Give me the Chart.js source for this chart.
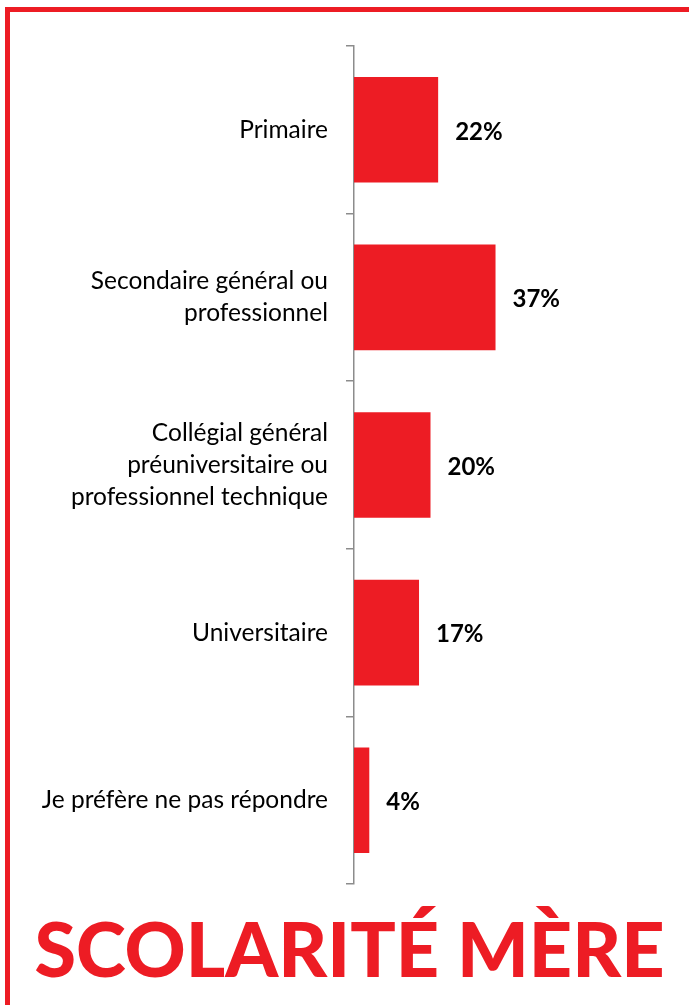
<!DOCTYPE html>
<html>
<head>
<meta charset="utf-8">
<script src="https://cdn.jsdelivr.net/npm/chart.js@4/dist/chart.umd.min.js"></script>
<style>
  html, body { margin: 0; padding: 0; background: #fff; }
  body { width: 689px; height: 1005px; position: relative; overflow: hidden; }
  #frame { position: absolute; left: 5px; top: 7px; right: -10px; bottom: -10px;
           border-top: 5px solid #ED1C24; border-left: 5px solid #ED1C24; }
  #wrap { position: absolute; left: 0; top: 0; width: 689px; height: 918px; }
  #title { position: absolute; left: 0; width: 689px; top: 902px; text-align: center;
           font-family: Lato, sans-serif; font-weight: 900; font-size: 75.5px; color: #ED1C24;
           padding-left: 10px; box-sizing: border-box; white-space: nowrap; }
</style>
</head>
<body>
<div id="frame"></div>
<div id="wrap"><canvas id="scolChart"></canvas></div>
<div id="title">SCOLARITÉ MÈRE</div>
<script>
const categories = [
    ["Primaire"],
    ["Secondaire général ou", "professionnel"],
    ["Collégial général", "préuniversitaire ou", "professionnel technique"],
    ["Universitaire"],
    ["Je préfère ne pas répondre"]
];
const values = [22, 37, 20, 17, 4];
const valueLabels = ["22%", "37%", "20%", "17%", "4%"];

const red = "#ED1C24";
const axisGray = "#8c8c8c";

// writes the % next to each bar
const barLabels = {
    id: "barLabels",
    afterDatasetsDraw(chart) {
        const ctx = chart.ctx;
        const meta = chart.getDatasetMeta(0);
        ctx.save();
        ctx.font = "bold 24px Lato, sans-serif";
        ctx.fillStyle = "#000";
        ctx.textAlign = "left";
        ctx.textBaseline = "middle";
        meta.data.forEach((bar, i) => {
            ctx.fillText(valueLabels[i], bar.x + 17, bar.y + 2);
        });
        ctx.restore();
    }
};

const ctx = document.getElementById("scolChart").getContext("2d");
const chart = new Chart(ctx, {
    type: "bar",
    data: {
        labels: categories,
        datasets: [{
            data: values,
            backgroundColor: red,
            borderWidth: 0,
            barPercentage: 0.63,
            categoryPercentage: 1
        }]
    },
    options: {
        indexAxis: "y",
        responsive: true,
        maintainAspectRatio: false,
        animation: false,
        layout: {
            padding: {top: 46, bottom: 16, left: 0, right: 29}
        },
        plugins: {
            legend: {display: false},
            tooltip: {enabled: false}
        },
        scales: {
            x: {
                display: false,
                min: 0,
                max: 80
            },
            y: {
                afterFit(scale) { scale.width = 354; },
                border: {display: true, color: axisGray, width: 1.5},
                grid: {
                    display: true,
                    offset: true,
                    drawOnChartArea: false,
                    tickLength: 8,
                    color: axisGray,
                    lineWidth: 1.5
                },
                ticks: {
                    color: "#000",
                    padding: 18,
                    font: {family: "Lato, sans-serif", size: 24.5, lineHeight: 1.3}
                }
            }
        }
    },
    plugins: [barLabels]
});
</script>
</body>
</html>
